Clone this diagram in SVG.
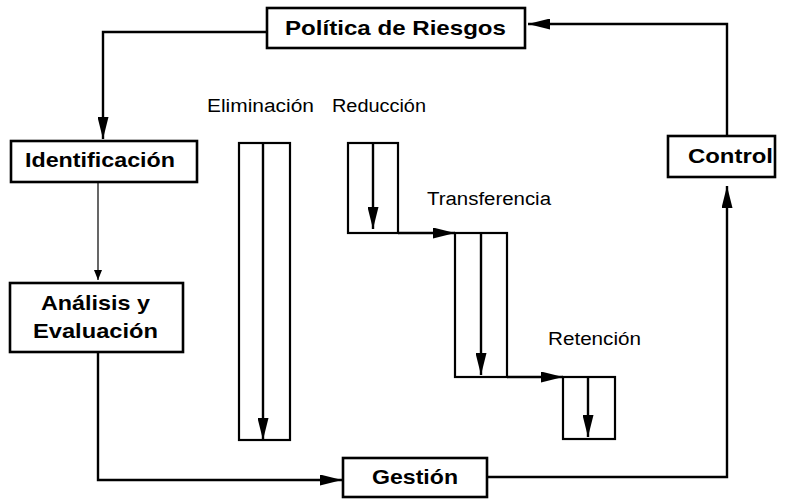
<svg xmlns="http://www.w3.org/2000/svg" width="789" height="500" viewBox="0 0 789 500">
<style>
.box{fill:#fff;stroke:#000;stroke-width:2.6}
.col{fill:none;stroke:#000;stroke-width:2.2}
.con{fill:none;stroke:#000;stroke-width:2.4}
.thin{fill:none;stroke:#000;stroke-width:1.2}
.bt{font-family:"Liberation Sans",Arial,sans-serif;font-weight:bold;font-size:21px;fill:#000}
.lt{font-family:"Liberation Sans",Arial,sans-serif;font-size:18px;fill:#000}
</style>
<defs>
<marker id="ah" markerWidth="10" markerHeight="8" refX="10" refY="4" orient="auto" markerUnits="userSpaceOnUse">
<path d="M0,0 L10,4 L0,8 Z" fill="#000"/>
</marker>
<marker id="ahb" markerWidth="22" markerHeight="11" refX="22" refY="5.5" orient="auto" markerUnits="userSpaceOnUse">
<path d="M0,0 L22,5.5 L0,11 Z" fill="#000"/>
</marker>
</defs>
<g id="connectors">
<polyline class="con" points="727,136 727,24 528,24" marker-end="url(#ahb)"/>
<polyline class="con" points="267,32 103,32 103,139" marker-end="url(#ahb)"/>
<line class="thin" x1="98" y1="182" x2="98" y2="280" marker-end="url(#ah)"/>
<polyline class="con" points="98,352 98,480 342,480" marker-end="url(#ahb)"/>
<polyline class="con" points="487,477 727,477 727,186" marker-end="url(#ahb)"/>
<line class="con" x1="398" y1="233" x2="455" y2="233" marker-end="url(#ahb)"/>
<line class="con" x1="507" y1="377" x2="563" y2="377" marker-end="url(#ahb)"/>
</g>
<g id="politica">
<rect class="box" x="267" y="8" width="258" height="40"/>
<text class="bt" x="285" y="35" textLength="221" lengthAdjust="spacingAndGlyphs">Política de Riesgos</text>
</g>
<g id="identificacion">
<rect class="box" x="11" y="141" width="186" height="41"/>
<text class="bt" x="25" y="167" textLength="150" lengthAdjust="spacingAndGlyphs">Identificación</text>
</g>
<g id="analisis">
<rect class="box" x="10" y="283" width="173" height="69"/>
<text class="bt" x="41" y="310" textLength="109" lengthAdjust="spacingAndGlyphs">Análisis y</text>
<text class="bt" x="33" y="338" textLength="125" lengthAdjust="spacingAndGlyphs">Evaluación</text>
</g>
<g id="gestion">
<rect class="box" x="343" y="458" width="144" height="39"/>
<text class="bt" x="372" y="484" textLength="86" lengthAdjust="spacingAndGlyphs">Gestión</text>
</g>
<g id="control">
<rect class="box" x="668" y="136" width="107" height="41"/>
<text class="bt" x="688" y="163" textLength="85" lengthAdjust="spacingAndGlyphs">Control</text>
</g>
<g id="eliminacion">
<text class="lt" x="207" y="112" textLength="107" lengthAdjust="spacingAndGlyphs">Eliminación</text>
<rect class="col" x="239" y="143" width="51" height="297"/>
<line class="con" x1="263" y1="143" x2="263" y2="440" marker-end="url(#ahb)"/>
</g>
<g id="reduccion">
<text class="lt" x="332" y="112" textLength="94" lengthAdjust="spacingAndGlyphs">Reducción</text>
<rect class="col" x="348" y="143" width="50" height="90"/>
<line class="con" x1="373" y1="143" x2="373" y2="229" marker-end="url(#ahb)"/>
</g>
<g id="transferencia">
<text class="lt" x="427" y="205" textLength="124" lengthAdjust="spacingAndGlyphs">Transferencia</text>
<rect class="col" x="455" y="233" width="52" height="144"/>
<line class="con" x1="481" y1="233" x2="481" y2="375" marker-end="url(#ahb)"/>
</g>
<g id="retencion">
<text class="lt" x="548" y="345" textLength="93" lengthAdjust="spacingAndGlyphs">Retención</text>
<rect class="col" x="563" y="377" width="52" height="62"/>
<line class="con" x1="588" y1="377" x2="588" y2="437" marker-end="url(#ahb)"/>
</g>
</svg>
